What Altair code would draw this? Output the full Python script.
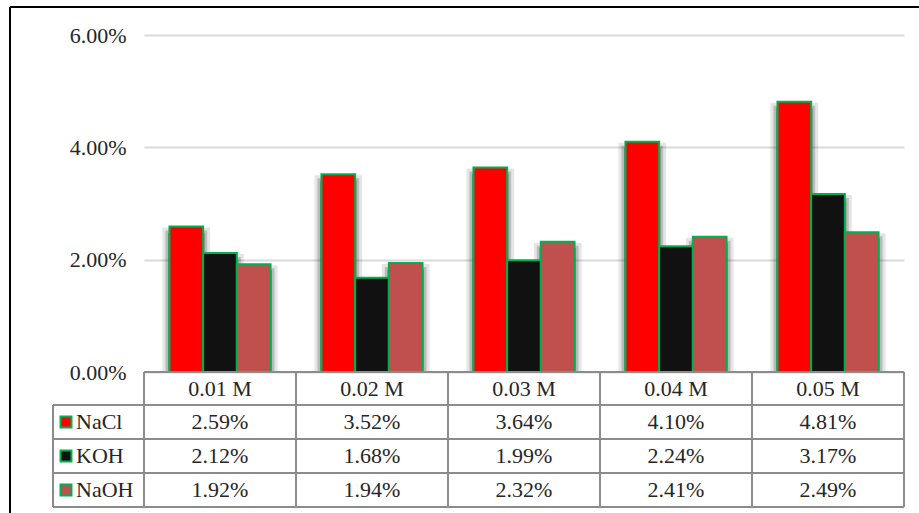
import altair as alt
import pandas as pd

# Concentrations and measured percentages per solution
categories = ["0.01 M", "0.02 M", "0.03 M", "0.04 M", "0.05 M"]
series = ["NaCl", "KOH", "NaOH"]
nacl = [2.59, 3.52, 3.64, 4.10, 4.81]
koh = [2.12, 1.68, 1.99, 2.24, 3.17]
naoh = [1.92, 1.94, 2.32, 2.41, 2.49]
y_ticks = [0, 0.02, 0.04, 0.06]

colors = ["#FF0000", "#111111", "#C0504D"]
OUTLINE = "#00B050"
GRID = "#8C8C8C"
FONT = "Liberation Serif"
FS = 22

rows = []
for s, vals in zip(series, [nacl, koh, naoh]):
    for c, v in zip(categories, vals):
        rows.append({"conc": c, "solution": s, "value": v / 100, "label": f"{v:.2f}%"})
df = pd.DataFrame(rows)
legend_df = pd.DataFrame({"solution": series})

# plot area size and outer padding
W, H = 760, 337
PAD = {"left": 144, "top": 35, "right": 15, "bottom": 141}

x = alt.X("conc:N", sort=categories, axis=None,
          scale=alt.Scale(paddingInner=0.335, paddingOuter=0.1675))
xo = alt.XOffset("solution:N", sort=series,
                 scale=alt.Scale(paddingInner=0, paddingOuter=0))
y = alt.Y("value:Q", scale=alt.Scale(domain=[0, 0.06]),
          axis=alt.Axis(values=y_ticks, format=".2%", title=None, domain=False,
                        ticks=False, labelFont=FONT, labelFontSize=FS,
                        labelColor="#262626", labelPadding=18,
                        gridColor="#D9D9D9", gridWidth=2))
color = alt.Color("solution:N", scale=alt.Scale(domain=series, range=colors), legend=None)

base = alt.Chart(df)

# soft drop shadow behind each group, cast away from the chart centre
shadows = []
for i, c in enumerate(categories):
    shift = (2 - i) * 4
    for grow, op in [(14, 0.1), (8, 0.18), (3, 0.28)]:
        shadows.append(
            base.transform_filter(alt.datum.conc == c)
            .mark_bar(fill="#000000", fillOpacity=op, stroke="#000000",
                      strokeOpacity=op, strokeWidth=grow, xOffset=shift,
                      yOffset=8, clip=True)
            .encode(x=x, xOffset=xo, y=y)
        )

bars = base.mark_bar(stroke=OUTLINE, strokeWidth=2).encode(
    x=x, xOffset=xo, y=y, color=color
)

# data table under the bars
row_y = {"head": 353.5, "NaCl": 387, "KOH": 421, "NaOH": 455}
header = alt.Chart(pd.DataFrame({"conc": categories})).mark_text(
    font=FONT, fontSize=FS, color="#262626", baseline="middle"
).encode(x=x, y=alt.value(row_y["head"]), text="conc:N")

cells = []
for s in series:
    cells.append(
        base.transform_filter(alt.datum.solution == s)
        .mark_text(font=FONT, fontSize=FS, color="#262626", baseline="middle")
        .encode(x=x, y=alt.value(row_y[s]), text="label:N")
    )

keys = []
names = []
for s in series:
    keys.append(
        alt.Chart(legend_df).transform_filter(alt.datum.solution == s)
        .mark_point(shape="square", filled=True, size=120, stroke=OUTLINE,
                    strokeWidth=2, opacity=1)
        .encode(x=alt.value(-78), y=alt.value(row_y[s]), color=color)
    )
    names.append(
        alt.Chart(legend_df).transform_filter(alt.datum.solution == s)
        .mark_text(font=FONT, fontSize=FS, color="#262626", align="left",
                   baseline="middle")
        .encode(x=alt.value(-68), y=alt.value(row_y[s]), text="solution:N")
    )

def hline(x1, x2, yy, col=GRID):
    return alt.Chart(legend_df).mark_rule(color=col, strokeWidth=2).encode(
        x=alt.value(x1), x2=alt.value(x2), y=alt.value(yy))

def vline(xx, y1, y2, col=GRID):
    return alt.Chart(legend_df).mark_rule(color=col, strokeWidth=2).encode(
        x=alt.value(xx), y=alt.value(y1), y2=alt.value(y2))

step = W / len(categories)
lines = [hline(0, W, H)]
for yy in [370, 404, 438, 472]:
    lines.append(hline(-91, W, yy))
lines.append(vline(-91, 370, 472))
for i in range(len(categories) + 1):
    lines.append(vline(i * step, H, 472))

# outer frame (top and left edges)
frame = [hline(-134, W + PAD["right"], -28, "#000000"),
         vline(-134, -28, H + PAD["bottom"], "#000000")]

chart = alt.layer(
    *shadows, bars, header, *cells, *keys, *names, *lines, *frame
).properties(
    width=W, height=H, padding=PAD, autosize=alt.AutoSizeParams(type="none"),
    background="#FFFFFF"
).configure_view(stroke=None)

chart.save("out.html", embed_options={"renderer": "svg", "actions": False})
